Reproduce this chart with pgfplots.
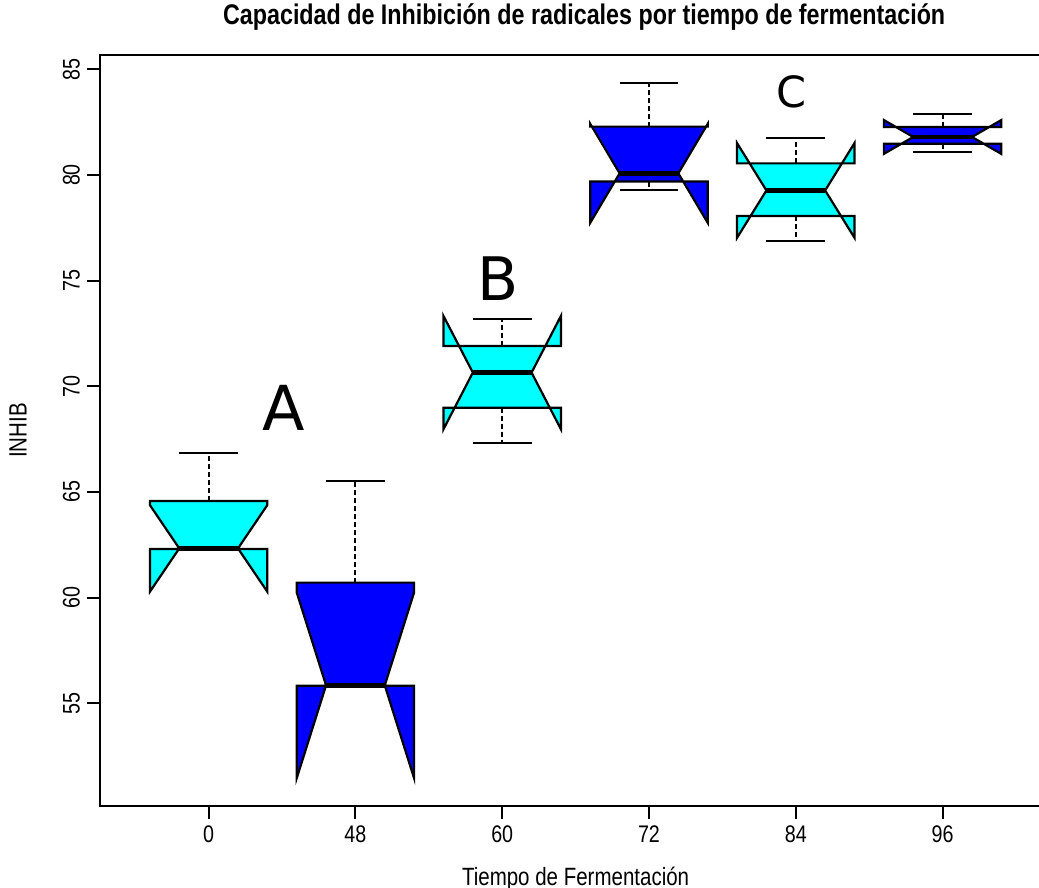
\documentclass[border=0pt]{standalone}
\usepackage{fontspec}
\setmainfont{Liberation Sans}[FakeStretch=0.82]
\newfontfamily\letterfont{DejaVu Sans}
\usepackage{pgfplots}
\pgfplotsset{compat=1.18}
\definecolor{rcyan}{RGB}{0,255,255}
\definecolor{rblue}{RGB}{0,0,255}
\begin{document}
\begin{tikzpicture}
\useasboundingbox (-50pt,-41pt) rectangle (469.5pt,403pt);
\begin{axis}[
  at={(0,0)}, anchor=south west,
  scale only axis, width=475.6pt, height=375.5pt,
  xmin=0.26, xmax=6.74, ymin=50.14, ymax=85.68,
  xtick={1,2,3,4,5,6}, xticklabels={0,48,60,72,84,96},
  ytick={55,60,65,70,75,80,85},
  xtick pos=left, ytick pos=left,
  tick align=outside, major tick length=6.5pt,
  every tick/.style={black, line width=1pt},
  axis line style={line width=1pt},
  /pgf/number format/assume math mode=true,
  ticklabel style={font=\fontsize{12}{14}\selectfont},
  yticklabel style={rotate=90, anchor=south},
  every axis title shift=0pt,
  title={Capacidad de Inhibición de radicales por tiempo de fermentación},
  title style={at={(axis description cs:0.509,1.0506)}, anchor=center, xshift=0pt, yshift=0pt, font=\fontsize{14.2}{16}\selectfont\bfseries},
  xlabel={Tiempo de Fermentación},
  xlabel style={at={(axis description cs:0.5,-0.0965)}, anchor=center, font=\fontsize{12.5}{14}\selectfont},
  ylabel={INHIB},
  ylabel style={at={(axis description cs:-0.0862,0.5)}, anchor=center, font=\fontsize{12.5}{14}\selectfont},
  clip=false,
]
% boxes
\addplot[fill=rcyan, draw=black, line width=1.1pt] coordinates {(0.6,62.30) (1.4,62.30) (1.4,60.28) (1.2,62.33) (1.4,64.38) (1.4,64.57) (0.6,64.57) (0.6,64.38) (0.8,62.33) (0.6,60.28)} --cycle;
\addplot[fill=rblue, draw=black, line width=1.1pt] coordinates {(1.6,55.83) (2.4,55.83) (2.4,51.45) (2.2,55.85) (2.4,60.25) (2.4,60.71) (1.6,60.71) (1.6,60.25) (1.8,55.85) (1.6,51.45)} --cycle;
\addplot[fill=rcyan, draw=black, line width=1.1pt] coordinates {(2.6,68.99) (3.4,68.99) (3.4,67.97) (3.2,70.65) (3.4,73.33) (3.4,71.91) (2.6,71.91) (2.6,73.33) (2.8,70.65) (2.6,67.97)} --cycle;
\addplot[fill=rblue, draw=black, line width=1.1pt] coordinates {(3.6,79.69) (4.4,79.69) (4.4,77.74) (4.2,80.08) (4.4,82.42) (4.4,82.29) (3.6,82.29) (3.6,82.42) (3.8,80.08) (3.6,77.74)} --cycle;
\addplot[fill=rcyan, draw=black, line width=1.1pt] coordinates {(4.6,78.06) (5.4,78.06) (5.4,77.03) (5.2,79.27) (5.4,81.51) (5.4,80.55) (4.6,80.55) (4.6,81.51) (4.8,79.27) (4.6,77.03)} --cycle;
\addplot[fill=rblue, draw=black, line width=1.1pt] coordinates {(5.6,81.48) (6.4,81.48) (6.4,81.00) (6.2,81.80) (6.4,82.60) (6.4,82.27) (5.6,82.27) (5.6,82.60) (5.8,81.80) (5.6,81.00)} --cycle;
% whiskers
\addplot[black, line width=1pt, dash pattern=on 2.5pt off 1.5pt] coordinates {(1,64.57) (1,66.86)};
\addplot[black, line width=1pt, dash pattern=on 2.5pt off 1.5pt] coordinates {(2,60.71) (2,65.52)};
\addplot[black, line width=1pt, dash pattern=on 2.5pt off 1.5pt] coordinates {(3,71.91) (3,73.17)};
\addplot[black, line width=1pt, dash pattern=on 2.5pt off 1.5pt] coordinates {(3,68.99) (3,67.30)};
\addplot[black, line width=1pt, dash pattern=on 2.5pt off 1.5pt] coordinates {(4,82.29) (4,84.37)};
\addplot[black, line width=1pt, dash pattern=on 2.5pt off 1.5pt] coordinates {(4,79.69) (4,79.27)};
\addplot[black, line width=1pt, dash pattern=on 2.5pt off 1.5pt] coordinates {(5,80.55) (5,81.77)};
\addplot[black, line width=1pt, dash pattern=on 2.5pt off 1.5pt] coordinates {(5,78.06) (5,76.88)};
\addplot[black, line width=1pt, dash pattern=on 2.5pt off 1.5pt] coordinates {(6,82.27) (6,82.87)};
\addplot[black, line width=1pt, dash pattern=on 2.5pt off 1.5pt] coordinates {(6,81.48) (6,81.10)};
% caps
\addplot[black, line width=1pt] coordinates {(0.8,66.86) (1.2,66.86)};
\addplot[black, line width=1pt] coordinates {(1.8,65.52) (2.2,65.52)};
\addplot[black, line width=1pt] coordinates {(2.8,73.17) (3.2,73.17)};
\addplot[black, line width=1pt] coordinates {(2.8,67.30) (3.2,67.30)};
\addplot[black, line width=1pt] coordinates {(3.8,84.37) (4.2,84.37)};
\addplot[black, line width=1pt] coordinates {(3.8,79.27) (4.2,79.27)};
\addplot[black, line width=1pt] coordinates {(4.8,81.77) (5.2,81.77)};
\addplot[black, line width=1pt] coordinates {(4.8,76.88) (5.2,76.88)};
\addplot[black, line width=1pt] coordinates {(5.8,82.87) (6.2,82.87)};
\addplot[black, line width=1pt] coordinates {(5.8,81.10) (6.2,81.10)};
% medians
\addplot[black, line width=2.2pt] coordinates {(0.8,62.33) (1.2,62.33)};
\addplot[black, line width=2.2pt] coordinates {(1.8,55.85) (2.2,55.85)};
\addplot[black, line width=2.2pt] coordinates {(2.8,70.65) (3.2,70.65)};
\addplot[black, line width=2.2pt] coordinates {(3.8,80.08) (4.2,80.08)};
\addplot[black, line width=2.2pt] coordinates {(4.8,79.27) (5.2,79.27)};
\addplot[black, line width=2.2pt] coordinates {(5.8,81.80) (6.2,81.80)};
% group letters
\node[font=\letterfont\fontsize{31}{36}\selectfont, inner sep=0pt] at (axis cs:1.51,69.0) {A};
\node[font=\letterfont\fontsize{30}{36}\selectfont, inner sep=0pt] at (axis cs:2.97,75.1) {B};
\node[font=\letterfont\fontsize{21.5}{26}\selectfont, inner sep=0pt] at (axis cs:4.97,83.94) {C};
\end{axis}
\end{tikzpicture}
\end{document}
